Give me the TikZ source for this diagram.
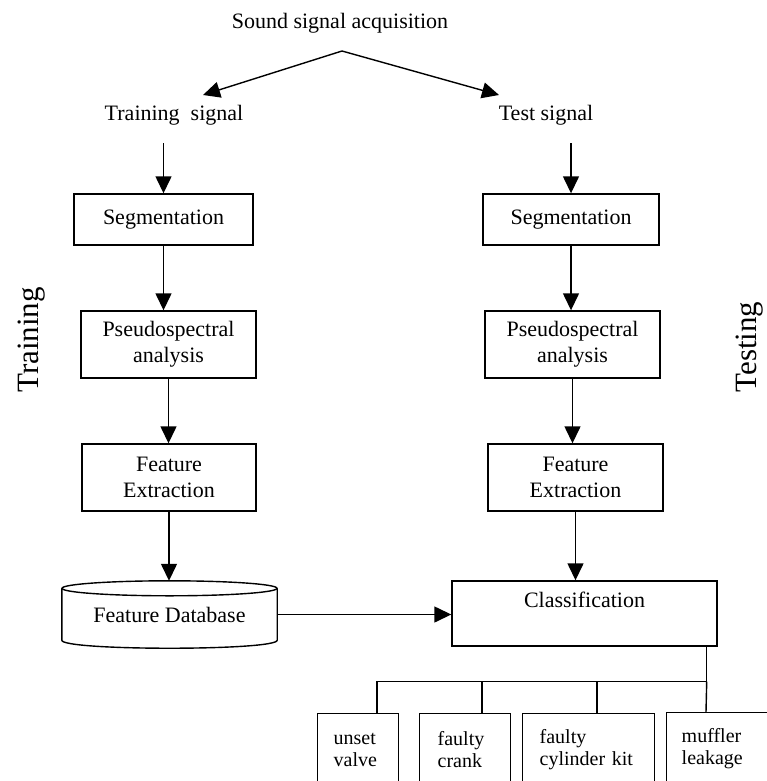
\documentclass[tikz,border=0pt]{standalone}
\usepackage{fontspec}
\setmainfont{Liberation Serif}
\usetikzlibrary{arrows.meta}
\begin{document}
\begin{tikzpicture}[x=1pt,y=-1pt,
  line/.style={line width=1.4pt, draw=black},
  arr/.style={line, -{Triangle[length=17pt,width=16pt]}},
  box/.style={line, rectangle, inner sep=0pt, align=center, font=\fontsize{22}{26}\selectfont},
  txt/.style={inner sep=0pt, font=\fontsize{22}{26}\selectfont},
  sbox/.style={line, rectangle, inner ysep=0pt, anchor=north west, minimum height=72pt,
    align=left, font=\fontsize{20}{22}\selectfont},
  side/.style={inner sep=0pt, rotate=90, font=\fontsize{31}{31}\selectfont}]
\useasboundingbox (0,0) rectangle (766,781);

% top
\node[txt] (src) at (340,23) {Sound signal acquisition};
\coordinate (apex) at (342,51);
\node[txt] (trs) at (174,115) {Training\ \ signal};
\node[txt] (tss) at (546,115) {Test signal};
\coordinate (tipL) at (203,95);
\coordinate (tipR) at (499,95);
\draw[arr] (apex) -- (tipL);
\draw[arr] (apex) -- (tipR);

% side labels
\node[side] (trn) at (32,340) {Training};
\node[side] (tst) at (750,347) {Testing};

% training column
\node[box, minimum width=179pt, minimum height=51pt] (segL) at (163.5,219.5) {Segmentation};
\node[box, minimum width=175pt, minimum height=67pt] (psL) at (168.5,344.5) {Pseudospectral\\analysis};
\node[box, minimum width=174pt, minimum height=67pt] (feL) at (169,477.5) {Feature\\Extraction};
\node[txt, minimum width=215pt, minimum height=67pt] (db) at (169.5,614.5) {Feature Database};
\draw[line] ([yshift=-7.5pt]db.north) ellipse [x radius=107.5pt, y radius=7.5pt];
\draw[line] ([yshift=-7.5pt]db.north west) -- ([yshift=8pt]db.south west)
  .. controls ([yshift=-2.7pt]db.south west) and ([yshift=-2.7pt]db.south east) .. ([yshift=8pt]db.south east)
  -- ([yshift=-7.5pt]db.north east);

% testing column
\node[box, minimum width=176pt, minimum height=51pt] (segR) at (571,219.5) {Segmentation};
\node[box, minimum width=175pt, minimum height=67pt] (psR) at (572.5,344.5) {Pseudospectral\\analysis};
\node[box, minimum width=175pt, minimum height=67pt] (feR) at (575.5,477.5) {Feature\\Extraction};
\node[box, minimum width=265pt, minimum height=65pt,
  label={[txt, anchor=north, yshift=-12pt]north:Classification}] (cls) at (584.5,613.5) {};

% arrows
\draw[arr] ([yshift=50pt]segL.north) -- (segL.north);
\draw[arr] ([yshift=50pt]segR.north) -- (segR.north);
\draw[arr] (segL.south) -- (segL.south |- psL.north);
\draw[arr] (segR.south) -- (segR.south |- psR.north);
\draw[arr] (psL.south) -- (psL.south |- feL.north);
\draw[arr] (psR.south) -- (psR.south |- feR.north);
\draw[arr] (feL.south) -- (feL.south |- db.north);
\draw[arr] (feR.south) -- (feR.south |- cls.north);
\draw[arr] (db.east) -- (db.east -| cls.west);

% outcome boxes
\node[sbox, inner xsep=16pt, text width=49pt] (b1) at (317,713) {unset\\valve};
\node[sbox, inner xsep=18pt, text width=55pt] (b2) at (419,713) {faulty\\crank};
\node[sbox, inner xsep=17pt, text width=98pt] (b3) at (522,713) {faulty\\cylinder kit};
\node[sbox, inner xsep=15pt, text width=72pt] (b4) at (666,712) {muffler\\leakage};

\coordinate (br) at ([xshift=-11pt]cls.south east);
\coordinate (hub) at ([yshift=-35pt]br);
\draw[line] (br) -- (hub);
\draw[line] (hub) -| ([xshift=60pt]b1.north west);
\draw[line] ([xshift=63pt]b2.north west) -- ([xshift=63pt]b2.north west |- hub);
\draw[line] ([xshift=75pt]b3.north west) -- ([xshift=75pt]b3.north west |- hub);
\draw[line] (hub) -- ([xshift=40pt]b4.north west);
\end{tikzpicture}
\end{document}
